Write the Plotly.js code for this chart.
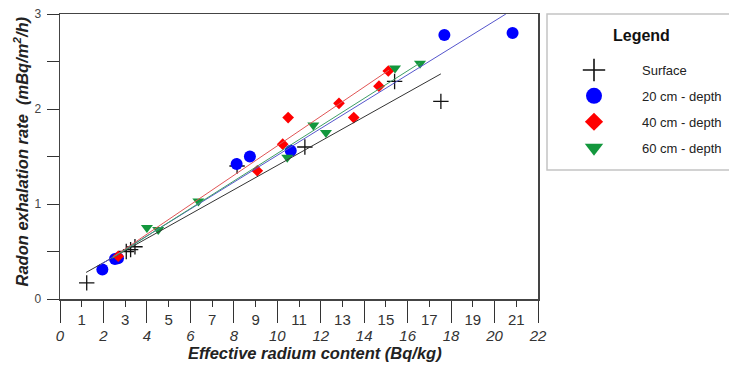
<!DOCTYPE html>
<html>
<head>
<meta charset="utf-8">
<script src="https://cdn.plot.ly/plotly-3.0.1.min.js"></script>
<style>html,body{margin:0;padding:0;background:#fff;}#chart{width:729px;height:370px;}</style>
</head>
<body>
<div id="chart"></div>
<script>
// Series names
const seriesNames = ["Surface", "20 cm - depth", "40 cm - depth", "60 cm - depth"];

// Effective radium content (Bq/kg) and radon exhalation rate (mBq/m2/h)
const surfaceX = [1.23, 3.05, 3.25, 3.45, 8.15, 11.27, 15.4, 17.53];
const surfaceY = [0.17, 0.50, 0.52, 0.55, 1.40, 1.60, 2.29, 2.08];

const depth20X = [1.95, 2.53, 2.67, 8.13, 8.74, 10.62, 17.69, 20.83];
const depth20Y = [0.31, 0.42, 0.43, 1.42, 1.50, 1.56, 2.78, 2.80];

const depth40X = [2.68, 9.08, 10.25, 10.50, 12.84, 13.52, 14.68, 15.11];
const depth40Y = [0.45, 1.35, 1.63, 1.91, 2.06, 1.91, 2.24, 2.40];

const depth60X = [4.00, 4.52, 6.37, 10.46, 11.66, 12.24, 15.42, 16.57];
const depth60Y = [0.75, 0.73, 1.03, 1.49, 1.83, 1.75, 2.43, 2.48];

// Linear fits (y = slope * x + intercept) and their x extents
const fitSlopes     = [0.128, 0.1414, 0.155, 0.145];
const fitIntercepts = [0.126, 0.098, 0.062, 0.082];
const fitXStart     = [1.2, 1.85, 2.44, 2.4];
const fitXEnd       = [17.53, 20.52, 15.15, 16.57];

// Tick labels
const xEvenTicks = [0, 2, 4, 6, 8, 10, 12, 14, 16, 18, 20, 22];
const xOddTicks  = [1, 3, 5, 7, 9, 11, 13, 15, 17, 19, 21];
const yTicks     = [0, 1, 2, 3];
const yMinorTicks = [0.5, 1.5, 2.5];

const FONT = "Liberation Sans, Arial, sans-serif";
const markerColors = ["#111111", "#0000ff", "#ff0000", "#13973d"];
const lineColors   = ["#333333", "#5555cc", "#e05555", "#3f9e66"];
const symbols      = ["cross-thin-open", "circle", "diamond", "triangle-down"];
const sizes        = [11, 12, 9, 10.5];
const legendSizes  = [16, 16, 14, 16];
const xs = [surfaceX, depth20X, depth40X, depth60X];
const ys = [surfaceY, depth20Y, depth40Y, depth60Y];

const traces = [];
for (let i = 0; i < 4; i++) {
  const x0 = fitXStart[i], x1 = fitXEnd[i];
  traces.push({
    type: "scatter", mode: "lines", xaxis: "x2", yaxis: "y",
    x: [x0, x1],
    y: [fitSlopes[i] * x0 + fitIntercepts[i], fitSlopes[i] * x1 + fitIntercepts[i]],
    line: {color: lineColors[i], width: 1},
    showlegend: false, hoverinfo: "skip"
  });
}
for (let i = 0; i < 4; i++) {
  const m = {symbol: symbols[i], size: sizes[i], color: markerColors[i]};
  if (i === 0) m.line = {color: markerColors[i], width: 1.3};
  traces.push({
    type: "scatter", mode: "markers",
    name: seriesNames[i], legendgroup: "g" + i, showlegend: false,
    x: xs[i], y: ys[i], marker: m
  });
}
// legend-only entries (larger symbols, as in the reference legend)
for (let i = 0; i < 4; i++) {
  const m = {symbol: symbols[i], size: legendSizes[i], color: markerColors[i]};
  if (i === 0) m.line = {color: markerColors[i], width: 1.6};
  traces.push({
    type: "scatter", mode: "markers",
    name: seriesNames[i], legendgroup: "g" + i, showlegend: true,
    x: [null], y: [null], marker: m, hoverinfo: "skip"
  });
}

const L = 60, R = 538, T = 14, B = 299;
const px2x = p => (p - L) / (R - L);
const px2y = p => (B - p) / (B - T);

const layout = {
  width: 729, height: 370,
  margin: {l: L, r: 729 - R, t: T, b: 370 - B, pad: 0, autoexpand: false},
  paper_bgcolor: "#ffffff", plot_bgcolor: "#ffffff",
  font: {family: FONT, color: "#222"},
  showlegend: true,
  xaxis: {
    range: [0, 22], tickmode: "array", tickvals: xEvenTicks,
    ticktext: xEvenTicks.map(String),
    ticks: "outside", ticklen: 22, tickwidth: 1, tickcolor: "#333",
    tickfont: {size: 15, style: "italic", color: "#333", family: FONT},
    showline: true, linecolor: "#444", linewidth: 1.5, mirror: true,
    showgrid: false, zeroline: false, fixedrange: true
  },
  xaxis2: {
    overlaying: "x", anchor: "y", side: "bottom",
    range: [0, 22], tickmode: "array", tickvals: xOddTicks,
    ticktext: xOddTicks.map(String),
    ticks: "outside", ticklen: 7, tickwidth: 1, tickcolor: "#333",
    tickfont: {size: 15, color: "#333", family: FONT},
    showline: false, showgrid: false, zeroline: false, fixedrange: true
  },
  yaxis: {
    range: [0, 3], tickmode: "array", tickvals: yTicks,
    ticktext: yTicks.map(String),
    ticks: "outside", ticklen: 12, tickwidth: 1, tickcolor: "#333",
    ticklabelstandoff: 3,
    minor: {tickmode: "array", tickvals: yMinorTicks, ticks: "outside", ticklen: 12, tickwidth: 1, tickcolor: "#333", showgrid: false},
    tickfont: {size: 12, color: "#444", family: FONT},
    showline: true, linecolor: "#444", linewidth: 1.5, mirror: true,
    showgrid: false, zeroline: false, fixedrange: true
  },
  legend: {
    x: px2x(546), y: px2y(55), xanchor: "left", yanchor: "top",
    bgcolor: "rgba(0,0,0,0)", borderwidth: 0,
    itemwidth: 86, tracegroupgap: 6,
    font: {size: 13, color: "#222", family: FONT}
  },
  shapes: [{
    type: "rect", xref: "paper", yref: "paper",
    x0: px2x(547), x1: px2x(740), y0: px2y(170), y1: px2y(14),
    line: {color: "#c4c4c4", width: 1.5}, fillcolor: "rgba(0,0,0,0)"
  }],
  annotations: [
    {text: "<b>Legend</b>", xref: "paper", yref: "paper", x: px2x(641), y: px2y(35.5),
     xanchor: "center", yanchor: "middle", showarrow: false,
     font: {size: 16, color: "#111", family: FONT}},
    {text: "<b><i>Effective radium content (Bq/kg)</i></b>", xref: "paper", yref: "paper",
     x: px2x(315), y: px2y(353), xanchor: "center", yanchor: "middle", showarrow: false,
     font: {size: 16.5, color: "#222", family: FONT}},
    {text: "<b><i>Radon exhalation rate \u00a0(mBq/m<sup>2</sup>/h)</i></b>", xref: "paper", yref: "paper",
     x: px2x(22), y: px2y(151.5), xanchor: "center", yanchor: "middle", textangle: -90, showarrow: false,
     font: {size: 16.5, color: "#222", family: FONT}}
  ]
};

Plotly.newPlot("chart", traces, layout, {displayModeBar: false, staticPlot: true});
</script>
</body>
</html>
